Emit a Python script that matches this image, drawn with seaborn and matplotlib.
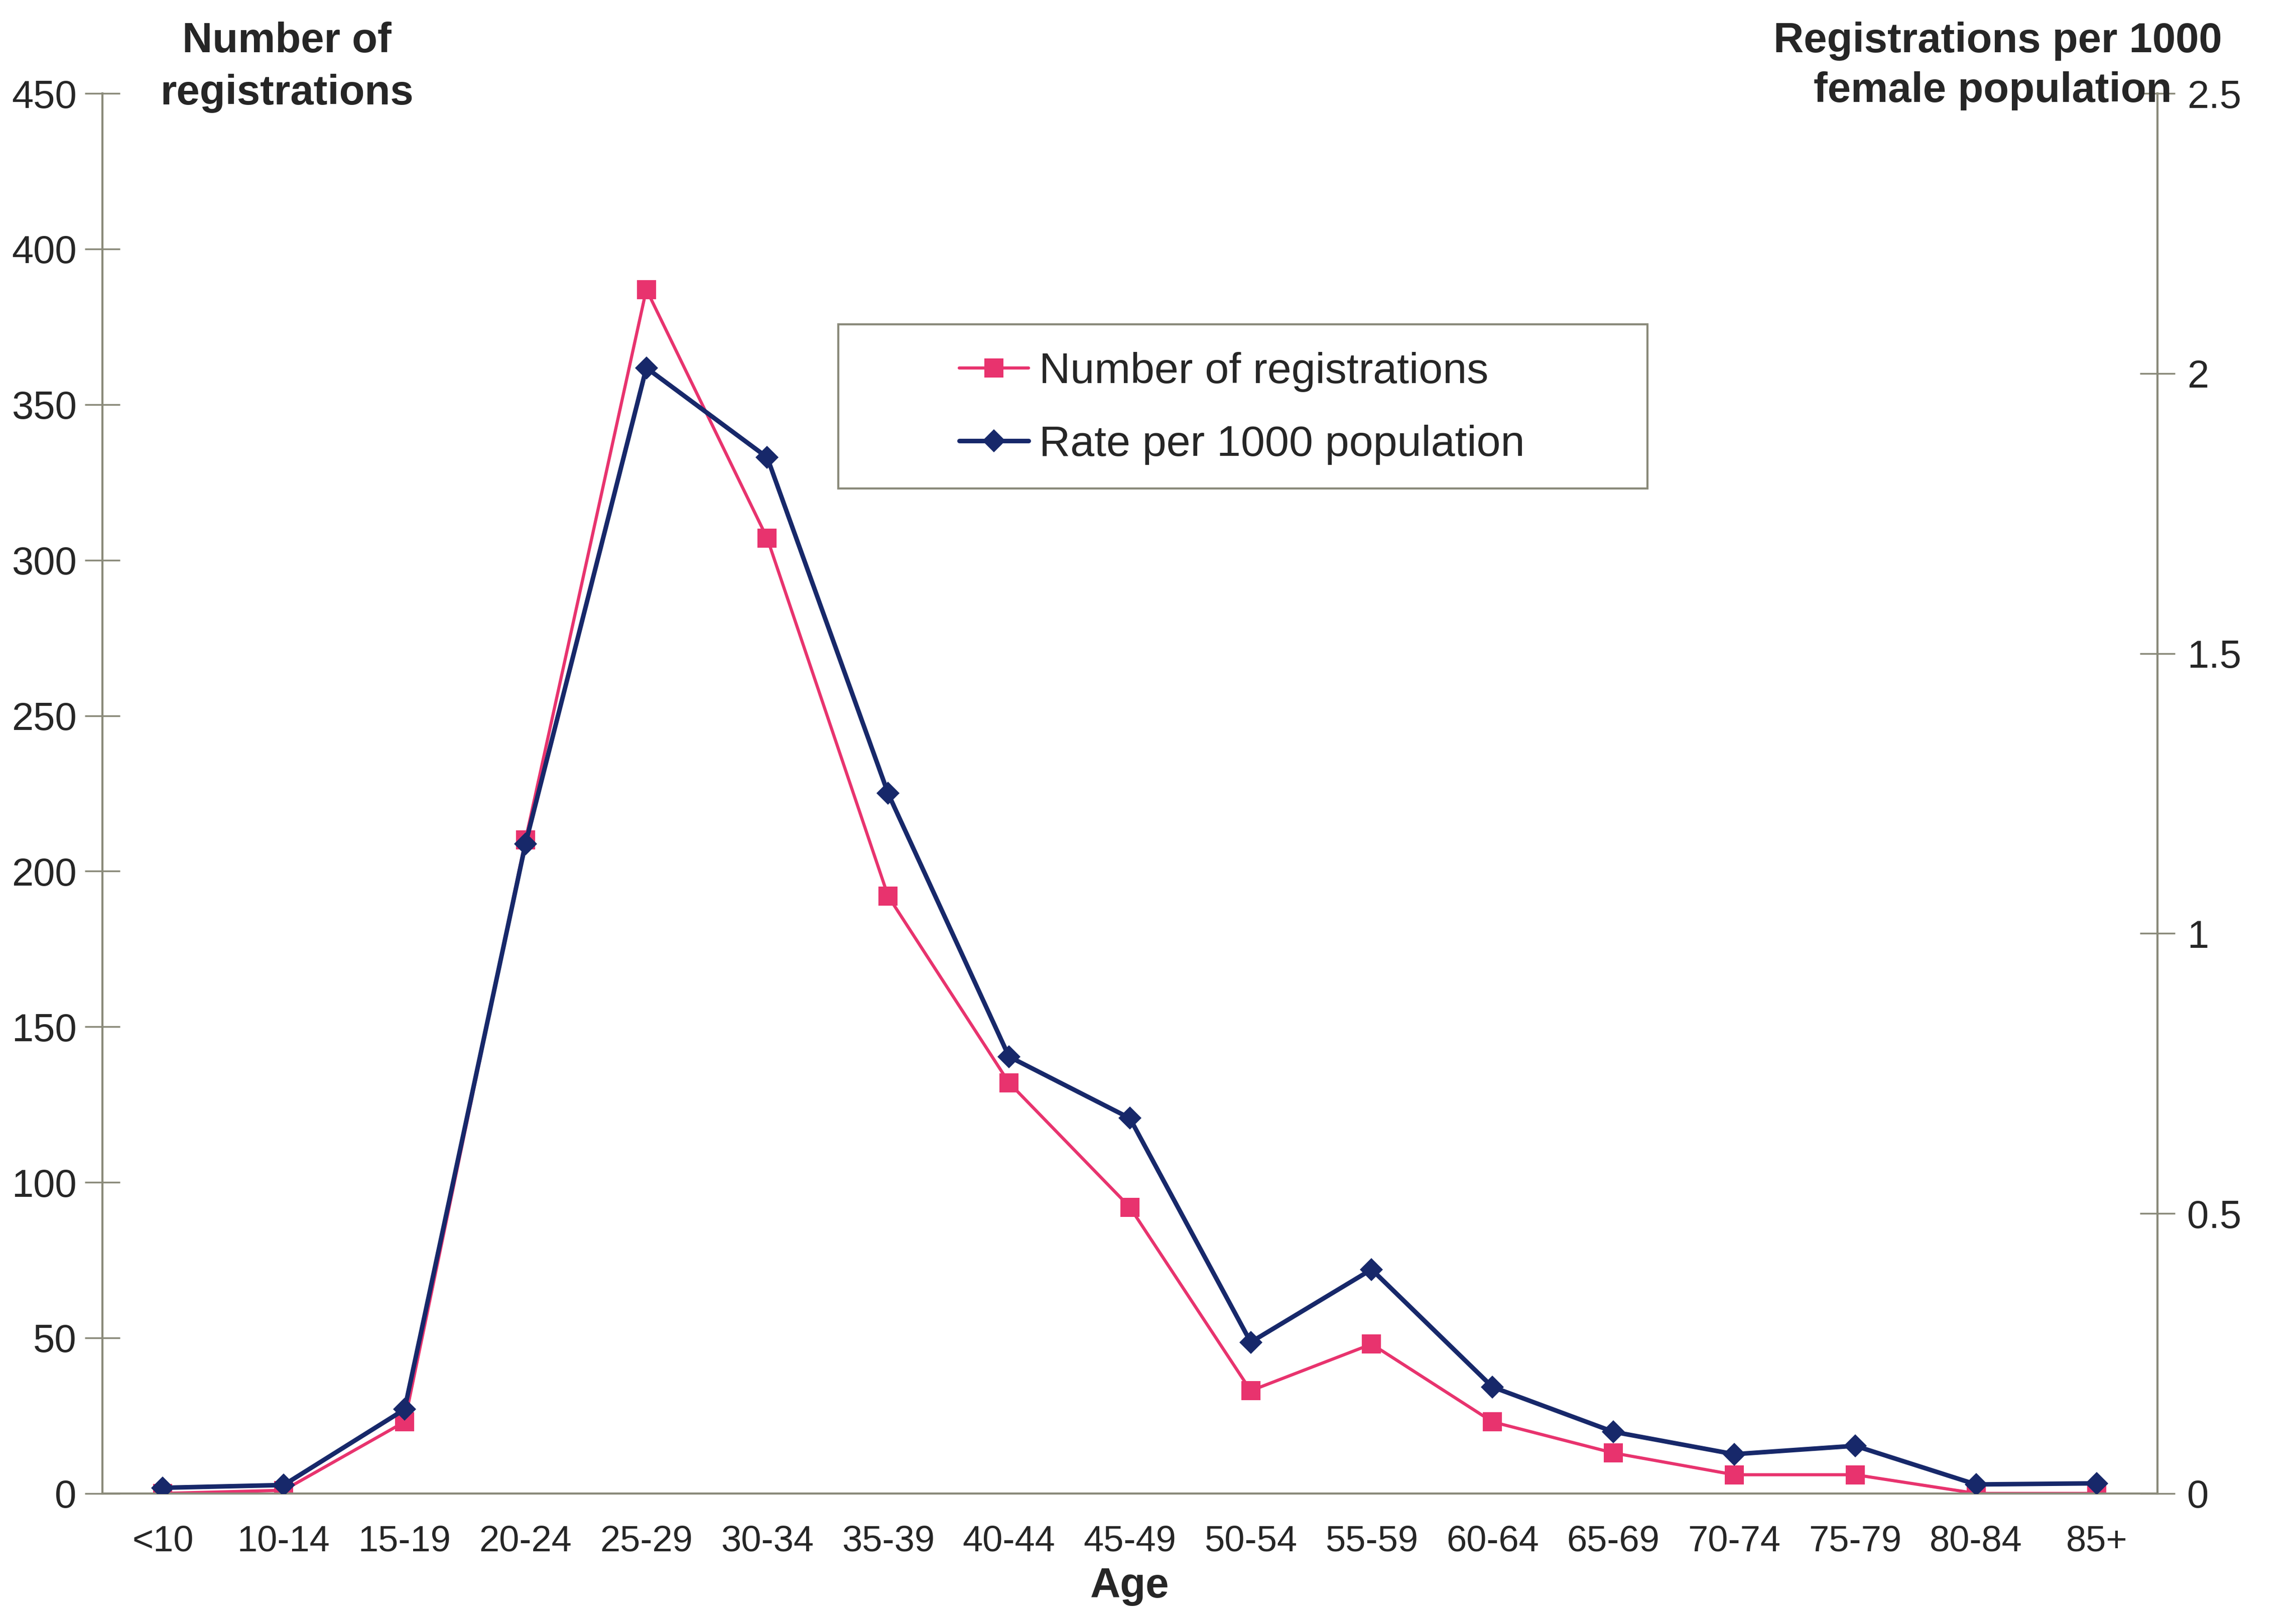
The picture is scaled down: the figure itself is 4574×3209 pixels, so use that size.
import pandas as pd
import matplotlib.pyplot as plt
import seaborn as sns
from matplotlib.lines import Line2D
from matplotlib.patches import Rectangle

ages = ['<10', '10-14', '15-19', '20-24', '25-29', '30-34', '35-39', '40-44', '45-49',
        '50-54', '55-59', '60-64', '65-69', '70-74', '75-79', '80-84', '85+']
registrations = [0, 1, 23, 210, 387, 307, 192, 132, 92, 33, 48, 23, 13, 6, 6, 0, 0]
rate_per_1000 = [0.01, 0.015, 0.15, 1.16, 2.01, 1.85, 1.25, 0.78, 0.67, 0.27, 0.40,
                 0.19, 0.11, 0.07, 0.085, 0.016, 0.018]

df = pd.DataFrame({'Age': ages, 'Registrations': registrations, 'Rate': rate_per_1000})
df['pos'] = range(len(df))

sns.set_style('white')
plt.rcParams['font.family'] = ['Liberation Sans', 'DejaVu Sans']

pink = '#e8336e'
navy = '#17286a'
axis_col = '#8a8a7a'

fig = plt.figure(figsize=(45.74, 32.09), dpi=100)
ax = fig.add_axes([0.0446, 0.073, 0.895, 0.869])

sns.lineplot(data=df, x='pos', y='Registrations', ax=ax, color=pink, marker='s',
             markersize=28, markeredgewidth=0, linewidth=4.5, sort=False)
ax2 = ax.twinx()
sns.lineplot(data=df, x='pos', y='Rate', ax=ax2, color=navy, marker='D',
             markersize=23, markeredgewidth=0, linewidth=6.5, sort=False)

ax.set_xlim(-0.5, len(ages) - 0.5)
ax.set_ylim(0, 450)
ax2.set_ylim(0, 2.5)

ax.set_yticks(range(0, 451, 50))
ax2.set_yticks([0, 0.5, 1, 1.5, 2, 2.5])
ax2.set_yticklabels(['0', '0.5', '1', '1.5', '2', '2.5'])

ax.set_xticks(df['pos'])
ax.set_xticklabels(ages)
ax.set_xticks([p - 0.5 for p in range(len(ages) + 1)], minor=True)
ax.tick_params(axis='x', which='major', length=0, labelsize=52, pad=45)
ax.tick_params(axis='x', which='minor', length=50, width=2.5, direction='inout', color=axis_col)
ax.tick_params(axis='y', length=50, width=2.5, direction='inout', color=axis_col,
               labelsize=56, pad=12)
ax2.tick_params(axis='y', length=50, width=2.5, direction='inout', color=axis_col,
                labelsize=56, pad=18)

for a in (ax, ax2):
    a.spines['top'].set_visible(False)
    for s in ('left', 'right', 'bottom'):
        a.spines[s].set_color(axis_col)
        a.spines[s].set_linewidth(3)
    a.set_ylabel('')
    a.set_xlabel('')
ax2.spines['left'].set_visible(False)
ax2.spines['bottom'].set_visible(False)
ax.spines['right'].set_visible(False)

ax.set_xlabel('Age', fontsize=60, fontweight='bold', labelpad=12)

# axis titles sit above the two y axes, one text per line
fig.text(0.125, 0.9746, 'Number of', ha='center', va='center', fontsize=60, fontweight='bold')
fig.text(0.125, 0.9420, 'registrations', ha='center', va='center', fontsize=60, fontweight='bold')
fig.text(0.870, 0.9746, 'Registrations per 1000', ha='center', va='center',
         fontsize=60, fontweight='bold')
fig.text(0.868, 0.9437, 'female population', ha='center', va='center',
         fontsize=60, fontweight='bold')

# legend box drawn separately so it can be wider than its contents
ax2.add_patch(Rectangle((0.358, 0.718), 0.394, 0.117, transform=ax2.transAxes,
                        facecolor='white', edgecolor=axis_col, linewidth=3, zorder=5))
handles = [Line2D([], [], color=pink, marker='s', markersize=28, markeredgewidth=0, linewidth=4.5),
           Line2D([], [], color=navy, marker='D', markersize=23, markeredgewidth=0, linewidth=6.5)]
leg = ax2.legend(handles, ['Number of registrations', 'Rate per 1000 population'],
                 loc='center left', bbox_to_anchor=(0.417, 0.775), fontsize=62,
                 frameon=False, handlelength=1.6, handletextpad=0.25,
                 borderpad=0, labelspacing=0.75, borderaxespad=0)
leg.set_zorder(6)

fig.savefig('out.png', dpi=100, facecolor='white')
